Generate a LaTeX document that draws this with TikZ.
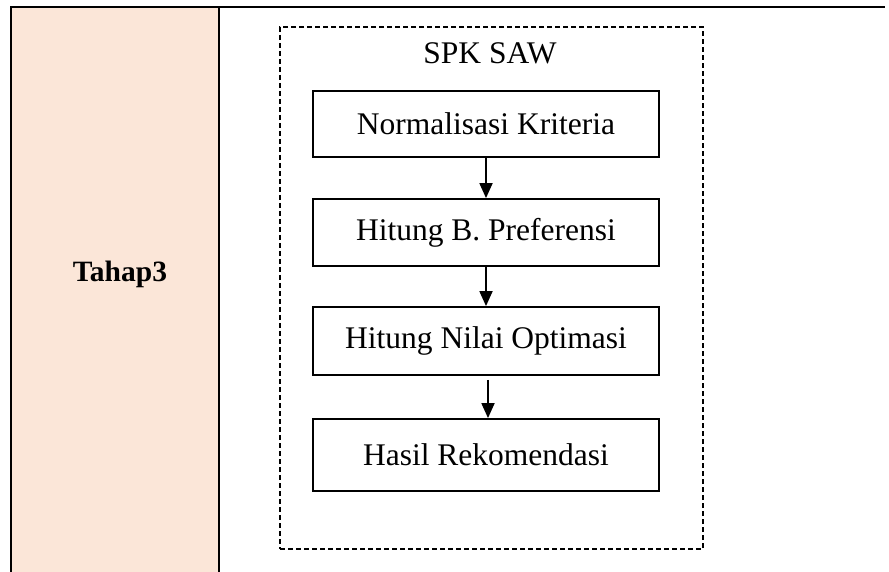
\documentclass[tikz,border=0pt]{standalone}
\usepackage{fontspec}
\setmainfont{Liberation Serif}
\usetikzlibrary{arrows.meta}
\definecolor{peach}{HTML}{FBE6D8}
\begin{document}
\begin{tikzpicture}[x=1pt,y=-1pt,
  stepbox/.style={draw,line width=1.8pt,minimum width=346pt,inner sep=0pt,
    font=\fontsize{31.5}{36}\selectfont},
  flow/.style={line width=1.8pt,-{Triangle[length=15pt,width=13pt]}},
  rule/.style={line width=1.7pt},
  thinrule/.style={line width=1.2pt}]
\useasboundingbox (0,0) rectangle (889,572);

% table cells
\fill[peach] (11,7) rectangle (219,572);
\draw[thinrule] (11,572) -- (11,7) -- (219,7);
\draw[rule] (219,572) -- (219,7) -- (885,7);
\node[font=\bfseries\fontsize{29.5}{34}\selectfont] (stage) at (120,274) {Tahap3};

% dashed frame of the SAW procedure
\node[draw,dashed,line width=1.4pt,dash pattern=on 5pt off 3pt,
  minimum width=423pt,minimum height=522pt,inner sep=0pt] (frame) at (491.5,288) {};
\node[font=\fontsize{31.5}{36}\selectfont] (title) at (490,53) {SPK SAW};

% procedure steps
\node[stepbox,minimum height=66pt] (b1) at (486,124) {Normalisasi Kriteria};
\node[stepbox,minimum height=67pt] (b2) at (486,232.5) {Hitung B. Preferensi};
\node[stepbox,minimum height=68pt] (b3) at (486,341) {Hitung Nilai Optimasi};
\node[stepbox,minimum height=72pt] (b4) at (486,455) {Hasil Rekomendasi};

\draw[flow] (b1.south) -- (b2.north);
\draw[flow] (b2.south) -- (b3.north);
\draw[flow,shorten <=4pt] ([xshift=2pt]b3.south) -- ([xshift=2pt]b4.north);
\end{tikzpicture}
\end{document}
